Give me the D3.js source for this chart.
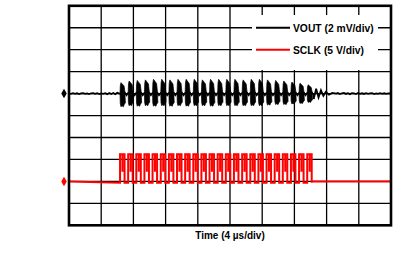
<!DOCTYPE html>
<html><head><meta charset="utf-8">
<script src="https://cdn.jsdelivr.net/npm/d3@7"></script>
<style>body{margin:0;background:#fff}svg{display:block}</style>
</head><body><svg id="c" width="406" height="267"></svg>
<script>
// ---- data ----
const timeGrid = [0,4,8,12,16,20,24,28,32,36,40];          // µs (4 µs/div)
const divGrid  = [0,1,2,3,4,5,6,7,8,9,10];                  // vertical divisions
const seriesNames = ["VOUT (2 mV/div)", "SCLK (5 V/div)"];
const seriesColors = ["#000000", "#ff0000"];
const xTitle = "Time (4 µs/div)";
const voutRef = 6;   // VOUT ground marker (division)
const sclkRef = 2;   // SCLK ground marker (division)
const voutPerDiv = 2; // mV
const sclkPerDiv = 5; // V

// SCLK edges (µs)
const sclkRise = [6.34,7.35,8.36,9.37,10.38,11.40,12.41,13.42,14.43,15.44,16.45,17.46,18.47,19.48,20.49,21.51,22.52,23.53,24.54,25.55,26.56,27.57,28.58,29.59];
const sclkFall = [6.90,7.91,8.92,9.93,10.94,11.96,12.97,13.98,14.99,16.00,17.01,18.02,19.03,20.04,21.05,22.07,23.08,24.09,25.10,26.11,27.12,28.13,29.14,30.15];
const sclkHigh = 6.2;   // V
const sclkLow = -0.3;   // V
const sclkGlitch = 2.2; // V, second-edge dip level

// VOUT feedthrough per clock cycle (mV)
const voutPeak   = [1.0,1.15,1.2,1.25,1.3,1.3,1.25,1.3,1.3,1.3,1.25,1.3,1.3,1.3,1.3,1.25,1.3,1.3,1.25,1.2,1.15,1.05,0.95,0.8];
const voutTrough = [-1.2,-1.1,-1.15,-1.1,-1.15,-1.1,-1.15,-1.1,-1.15,-1.1,-1.1,-1.15,-1.1,-1.1,-1.1,-1.1,-1.1,-1.1,-1.05,-1.0,-1.0,-0.95,-0.9,-0.8];
// ringing after the burst
const ringT = [30.40,30.70,31.00,31.30,31.60,31.90,32.30,32.70,33.20];
const ringV = [-0.50,0.45,-0.35,0.30,-0.20,0.15,-0.10,0.06,0.0];
// baseline noise (mV), sampled every 0.25 µs
const noiseStep = 0.25;
const preNoise  = [0.02,-0.03,0.04,-0.02,0.03,-0.05,0.02,0.04,-0.03,0.02,-0.04,0.03,0.05,-0.02,0.03,-0.04,0.02,-0.03,0.04,-0.05,0.06,-0.04,0.05,-0.06,0.07,0.0];
const postNoise = [0.05,-0.04,0.03,0.06,-0.03,0.04,-0.05,0.03,0.02,-0.04,0.05,-0.02,0.03,-0.03,0.04,-0.02,0.03,0.05,-0.04,0.02,-0.03,0.04,-0.02,0.03,-0.03,0.02,0.01];

// ---- layout ----
const L = 69, R = 391, T = 5.8, B = 225.3;
const svg = d3.select("#c");
const x = d3.scaleLinear().domain([0,40]).range([L,R]);
const y = d3.scaleLinear().domain([0,10]).range([B,T]);
const yV = mv => y(voutRef + mv / voutPerDiv);
const yS = v => y(sclkRef + v / sclkPerDiv);

// grid
svg.append("g").selectAll("line").data(timeGrid.slice(1,-1)).join("line")
  .attr("x1", d=>x(d)).attr("x2", d=>x(d)).attr("y1", T).attr("y2", B)
  .attr("stroke","#000").attr("stroke-width",1.3);
svg.append("g").selectAll("line").data(divGrid.slice(1,-1)).join("line")
  .attr("x1", L).attr("x2", R).attr("y1", d=>y(d)).attr("y2", d=>y(d))
  .attr("stroke","#000").attr("stroke-width",1.3);

// legend box (white, covers grid)
const lg = svg.append("g");
lg.append("rect").attr("x",252).attr("y",15).attr("width",126).attr("height",55).attr("fill","#fff");
[9,8].forEach((dv,i)=>{
  lg.append("line").attr("x1",256).attr("x2",290).attr("y1",y(dv)).attr("y2",y(dv))
    .attr("stroke",seriesColors[i]).attr("stroke-width",2);
  lg.append("text").attr("x",293).attr("y",y(dv)+3.8).text(seriesNames[i])
    .attr("font-family","'Liberation Sans', Arial, sans-serif").attr("font-weight","bold")
    .attr("font-size",10.3).attr("fill","#000");
});

// VOUT trace
const line = d3.line().x(d=>x(d[0])).y(d=>yV(d[1]));
const vPts = preNoise.map((v,i)=>[i*noiseStep, v]);
vPts.push([sclkRise[0], 0]);
sclkRise.forEach((t,i)=>{
  const next = i < sclkRise.length-1 ? sclkRise[i+1] : ringT[0];
  vPts.push([t+0.6, 0.08],[t+0.8,-0.15],[next-0.02, 0.05]);
});
ringT.forEach((t,i)=>vPts.push([t, ringV[i]]));
postNoise.forEach((v,i)=>vPts.push([33.4 + i*noiseStep, v]));
svg.append("path").attr("d", line(vPts)).attr("fill","none").attr("stroke","#000").attr("stroke-width",1.8);

// per-cycle burst blocks (sawtooth top, ragged bottom)
const area = d3.line().x(d=>x(d[0])).y(d=>yV(d[1]));
svg.append("g").selectAll("path").data(sclkRise).join("path")
  .attr("d",(t,i)=>{
    const p = voutPeak[i], q = voutTrough[i];
    return area([[t,0.1],[t+0.04,0.75*p],[t+0.12,p],[t+0.5,0.7*p],[t+0.6,0.2],
                 [t+0.66,0.7*q],[t+0.5,0.85*q],[t+0.42,q],[t+0.24,0.92*q],[t+0.12,q],[t+0.03,0.75*q],[t,0]]) + "Z";
  })
  .attr("fill","#000").attr("stroke","#000").attr("stroke-width",0.7);

// SCLK trace
const sl = d3.line().x(d=>x(d[0])).y(d=>yS(d[1]));
const sPts = [[0,0]];
sclkRise.forEach((t,i)=>{
  sPts.push([t,sclkLow],[t,sclkHigh],[t+0.3,sclkHigh],[t+0.3,sclkGlitch],[t+0.3,sclkHigh],
            [sclkFall[i],sclkHigh],[sclkFall[i],sclkLow]);
  if (i === sclkRise.length-1) sPts.push([sclkFall[i],0]);
});
sPts.push([40,0]);
svg.append("path").attr("d", sl(sPts)).attr("fill","none").attr("stroke","#ff0000").attr("stroke-width",2);

// ground markers
svg.append("path").attr("d", d3.symbol(d3.symbolDiamond, 26)())
  .attr("transform",`translate(${L-5},${yV(0)})`).attr("fill","#000");
svg.append("path").attr("d", d3.symbol(d3.symbolDiamond, 26)())
  .attr("transform",`translate(${L-5},${yS(0)})`).attr("fill","#ff0000");

// frame
svg.append("rect").attr("x",L).attr("y",T).attr("width",R-L).attr("height",B-T)
  .attr("fill","none").attr("stroke","#000").attr("stroke-width",2.6);

// x title
svg.append("text").attr("x",230).attr("y",239).attr("text-anchor","middle").text(xTitle)
  .attr("font-family","'Liberation Sans', Arial, sans-serif").attr("font-weight","bold")
  .attr("font-size",10).attr("fill","#000");
</script></body></html>
